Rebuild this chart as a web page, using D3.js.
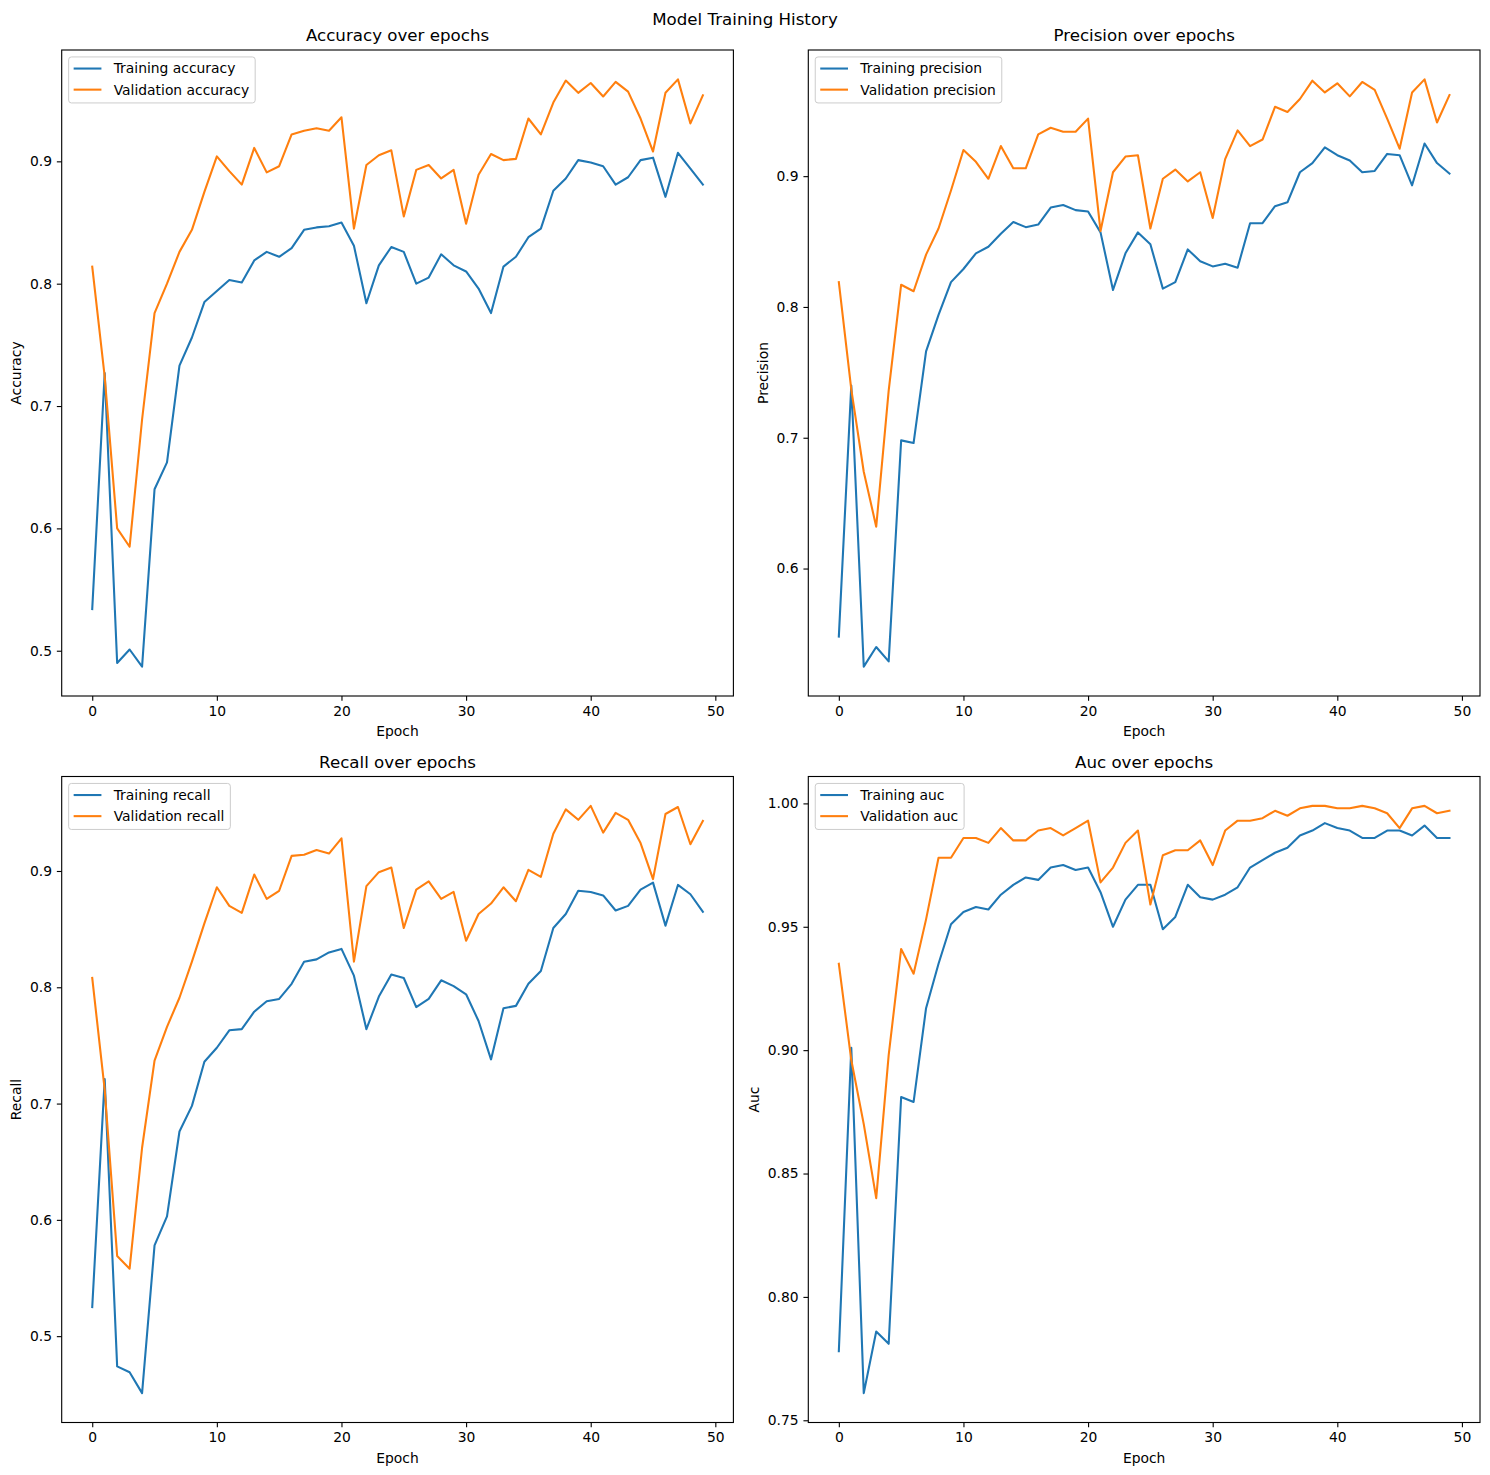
<!DOCTYPE html>
<html>
<head>
<meta charset="utf-8">
<script src="https://cdn.jsdelivr.net/npm/d3@7"></script>
<style>
body { margin: 0; background: #fff; }
svg text { font-family: 'DejaVu Sans', sans-serif; fill: #000; }
</style>
</head>
<body>
<svg id="drawing_region"></svg>
<script>
const epochs = [0,1,2,3,4,5,6,7,8,9,10,11,12,13,14,15,16,17,18,19,20,21,22,23,24,
    25,26,27,28,29,30,31,32,33,34,35,36,37,38,39,40,41,42,43,44,45,46,47,48,49];

const trainAccuracy = [0.534,0.727,0.490,0.501,0.487,0.632,0.654,0.733,0.756,0.785,
    0.794,0.803,0.801,0.819,0.826,0.822,0.829,0.844,0.846,0.847,
    0.850,0.831,0.784,0.815,0.830,0.826,0.800,0.805,0.824,0.815,
    0.810,0.796,0.776,0.814,0.822,0.838,0.845,0.876,0.886,0.901,
    0.899,0.896,0.881,0.887,0.901,0.903,0.871,0.907,0.894,0.881];
const valAccuracy = [0.814,0.724,0.600,0.585,0.689,0.776,0.800,0.826,0.844,0.875,
    0.904,0.892,0.881,0.911,0.891,0.896,0.922,0.925,0.927,0.925,
    0.936,0.845,0.897,0.905,0.909,0.855,0.893,0.897,0.886,0.893,
    0.849,0.889,0.906,0.901,0.902,0.935,0.922,0.948,0.966,0.956,
    0.964,0.953,0.965,0.957,0.935,0.908,0.956,0.967,0.931,0.954];

const trainPrecision = [0.548,0.740,0.525,0.540,0.529,0.698,0.696,0.766,0.794,0.819,
    0.829,0.841,0.846,0.856,0.865,0.861,0.863,0.876,0.878,0.874,
    0.873,0.857,0.813,0.841,0.857,0.848,0.814,0.819,0.844,0.835,
    0.831,0.833,0.830,0.864,0.864,0.877,0.880,0.903,0.910,0.922,
    0.916,0.912,0.903,0.904,0.917,0.916,0.893,0.925,0.910,0.902];
const valPrecision = [0.819,0.737,0.674,0.632,0.736,0.817,0.812,0.840,0.860,0.889,
    0.920,0.911,0.898,0.923,0.906,0.906,0.932,0.937,0.934,0.934,
    0.944,0.858,0.903,0.915,0.916,0.860,0.898,0.905,0.896,0.903,
    0.868,0.913,0.935,0.923,0.928,0.953,0.949,0.959,0.973,0.964,
    0.971,0.961,0.972,0.966,0.944,0.921,0.964,0.974,0.941,0.962];

const trainRecall = [0.525,0.721,0.474,0.469,0.451,0.578,0.603,0.676,0.698,0.736,
    0.748,0.763,0.764,0.779,0.788,0.790,0.803,0.822,0.824,0.830,
    0.833,0.810,0.764,0.792,0.811,0.808,0.783,0.790,0.806,0.801,
    0.794,0.771,0.738,0.782,0.784,0.803,0.814,0.851,0.863,0.883,
    0.882,0.879,0.866,0.870,0.884,0.890,0.853,0.888,0.880,0.865];
const valRecall = [0.808,0.712,0.569,0.558,0.662,0.737,0.766,0.791,0.822,0.855,
    0.886,0.870,0.864,0.897,0.876,0.883,0.913,0.914,0.918,0.915,
    0.928,0.822,0.887,0.899,0.903,0.851,0.884,0.891,0.876,0.882,
    0.840,0.863,0.872,0.886,0.874,0.901,0.895,0.932,0.953,0.944,
    0.956,0.933,0.950,0.944,0.924,0.893,0.949,0.955,0.923,0.943];

const trainAuc = [0.778,0.901,0.761,0.786,0.781,0.881,0.879,0.917,0.935,0.951,
    0.956,0.958,0.957,0.963,0.967,0.970,0.969,0.974,0.975,0.973,
    0.974,0.964,0.950,0.961,0.967,0.967,0.949,0.954,0.967,0.962,
    0.961,0.963,0.966,0.974,0.977,0.980,0.982,0.987,0.989,0.992,
    0.990,0.989,0.986,0.986,0.989,0.989,0.987,0.991,0.986,0.986];
const valAuc = [0.935,0.896,0.870,0.840,0.898,0.941,0.931,0.953,0.978,0.978,
    0.986,0.986,0.984,0.990,0.985,0.985,0.989,0.990,0.987,0.990,
    0.993,0.968,0.974,0.984,0.989,0.959,0.979,0.981,0.981,0.985,
    0.975,0.989,0.993,0.993,0.994,0.997,0.995,0.998,0.999,0.999,
    0.998,0.998,0.999,0.998,0.996,0.990,0.998,0.999,0.996,0.997];

const xTicks = [0,10,20,30,40,50];
const accuracyTicks = [0.5,0.6,0.7,0.8,0.9];
const precisionTicks = [0.6,0.7,0.8,0.9];
const recallTicks = [0.5,0.6,0.7,0.8,0.9];
const aucTicks = [0.75,0.80,0.85,0.90,0.95,1.00];

const PT = 100 / 72;

const svg = d3.select('#drawing_region')
    .attr('width', 1490)
    .attr('height', 1475);

svg.append('text')
    .attr('x', 745)
    .attr('y', 25)
    .attr('text-anchor', 'middle')
    .style('font-size', 12 * PT + 'px')
    .text('Model Training History');

class LineChart {
    constructor( config, data ) {
        this.config = {
            parent: config.parent,
            left: config.left,
            top: config.top,
            width: config.width,
            height: config.height,
            title: config.title || '',
            xlabel: config.xlabel || '',
            ylabel: config.ylabel || '',
            yticks: config.yticks,
            yformat: config.yformat || '.1f',
            name: config.name
        };
        this.data = data;
        this.init();
    }
    init() {
        let self = this;
        self.chart = d3.select( self.config.parent ).append('g')
            .attr('transform', `translate(${self.config.left}, ${self.config.top})`);
        self.inner_width = self.config.width;
        self.inner_height = self.config.height;

        self.xscale = d3.scaleLinear()
            .range( [0, self.inner_width] );
        self.yscale = d3.scaleLinear()
            .range( [self.inner_height, 0] );

        self.xaxis = d3.axisBottom( self.xscale )
            .tickValues( xTicks )
            .tickFormat( d3.format('d') )
            .tickSize( 3.5 * PT )
            .tickPadding( 3.5 * PT );
        self.yaxis = d3.axisLeft( self.yscale )
            .tickValues( self.config.yticks )
            .tickFormat( d3.format( self.config.yformat ) )
            .tickSize( 3.5 * PT )
            .tickPadding( 3.5 * PT );

        self.xaxis_group = self.chart.append('g')
            .attr('transform', `translate(0, ${self.inner_height})`);
        self.yaxis_group = self.chart.append('g');

        self.chart.append('text')
            .style('font-size', 12 * PT + 'px')
            .attr('text-anchor', 'middle')
            .attr('x', self.inner_width / 2)
            .attr('y', -9)
            .text( self.config.title );

        self.chart.append('text')
            .style('font-size', 10 * PT + 'px')
            .attr('text-anchor', 'middle')
            .attr('x', self.inner_width / 2)
            .attr('y', self.inner_height + 40)
            .text( self.config.xlabel );
    }
    update() {
        let self = this;
        const xmin = d3.min( self.data.epochs ), xmax = d3.max( self.data.epochs );
        const xpad = (xmax - xmin) * 0.05;
        self.xscale.domain( [xmin - xpad, xmax + xpad] );
        const all = self.data.train.concat( self.data.val );
        const ymin = d3.min( all ), ymax = d3.max( all );
        const ypad = (ymax - ymin) * 0.05;
        self.yscale.domain( [ymin - ypad, ymax + ypad] );
        self.render();
    }
    render() {
        let self = this;
        const line = d3.line()
            .x( (d, i) => self.xscale( self.data.epochs[i] ) )
            .y( d => self.yscale( d ) );

        const series = [
            { values: self.data.train, color: '#1f77b4', label: 'Training ' + self.config.name },
            { values: self.data.val, color: '#ff7f0e', label: 'Validation ' + self.config.name }
        ];

        self.chart.selectAll('path.series')
            .data( series )
            .enter()
            .append('path')
            .attr('class', 'series')
            .attr('fill', 'none')
            .attr('stroke', d => d.color)
            .attr('stroke-width', 1.5 * PT)
            .attr('stroke-linejoin', 'round')
            .attr('stroke-linecap', 'square')
            .attr('d', d => line( d.values ));

        self.xaxis_group.call( self.xaxis );
        self.yaxis_group.call( self.yaxis );
        [self.xaxis_group, self.yaxis_group].forEach( g => {
            g.select('.domain').remove();
            g.selectAll('line').attr('stroke', '#000').attr('stroke-width', 0.8 * PT);
            g.selectAll('text')
                .style('font-size', 10 * PT + 'px')
                .style('font-family', "'DejaVu Sans', sans-serif");
        });

        // spines
        self.chart.append('rect')
            .attr('width', self.inner_width)
            .attr('height', self.inner_height)
            .attr('fill', 'none')
            .attr('stroke', '#000')
            .attr('stroke-width', 0.8 * PT);

        // y label placed after the tick labels
        const bb = self.yaxis_group.node().getBBox();
        const ylabel_x = bb.x - 4 * PT - 3.3;
        self.chart.append('text')
            .style('font-size', 10 * PT + 'px')
            .attr('text-anchor', 'middle')
            .attr('transform', `translate(${ylabel_x}, ${self.inner_height / 2}) rotate(-90)`)
            .text( self.config.ylabel );

        // legend
        const fs = 10 * PT;
        const legend = self.chart.append('g')
            .attr('transform', `translate(${0.5 * fs}, ${0.5 * fs})`);
        const frame = legend.append('rect')
            .attr('rx', 0.2 * fs)
            .attr('ry', 0.2 * fs)
            .attr('height', 46)
            .attr('fill', '#fff')
            .attr('fill-opacity', 0.8)
            .attr('stroke', '#cccccc')
            .attr('stroke-width', 1);
        const rows = legend.selectAll('g.item')
            .data( series )
            .enter()
            .append('g')
            .attr('class', 'item')
            .attr('transform', (d, i) => `translate(0, ${11.6 + i * 21.1})`);
        rows.append('line')
            .attr('x1', 5)
            .attr('x2', 5 + 2 * fs)
            .attr('stroke', d => d.color)
            .attr('stroke-width', 1.5 * PT);
        rows.append('text')
            .attr('x', 45)
            .attr('dy', '0.35em')
            .style('font-size', fs + 'px')
            .text( d => d.label );
        let maxw = 0;
        rows.selectAll('text').each( function() {
            maxw = Math.max( maxw, this.getComputedTextLength() );
        });
        frame.attr('width', 45 + maxw + 6);
    }
}

const panels = [
    { left: 61.7, top: 50, title: 'Accuracy over epochs', ylabel: 'Accuracy', name: 'accuracy',
      yticks: accuracyTicks, yformat: '.1f', train: trainAccuracy, val: valAccuracy },
    { left: 808.3, top: 50, title: 'Precision over epochs', ylabel: 'Precision', name: 'precision',
      yticks: precisionTicks, yformat: '.1f', train: trainPrecision, val: valPrecision },
    { left: 61.7, top: 776.5, title: 'Recall over epochs', ylabel: 'Recall', name: 'recall',
      yticks: recallTicks, yformat: '.1f', train: trainRecall, val: valRecall },
    { left: 808.3, top: 776.5, title: 'Auc over epochs', ylabel: 'Auc', name: 'auc',
      yticks: aucTicks, yformat: '.2f', train: trainAuc, val: valAuc }
];

panels.forEach( p => {
    const config = {
        parent: '#drawing_region',
        left: p.left,
        top: p.top,
        width: 671.7,
        height: 646,
        title: p.title,
        xlabel: 'Epoch',
        ylabel: p.ylabel,
        yticks: p.yticks,
        yformat: p.yformat,
        name: p.name
    };
    const chart = new LineChart( config, { epochs: epochs, train: p.train, val: p.val } );
    chart.update();
});
</script>
</body>
</html>
